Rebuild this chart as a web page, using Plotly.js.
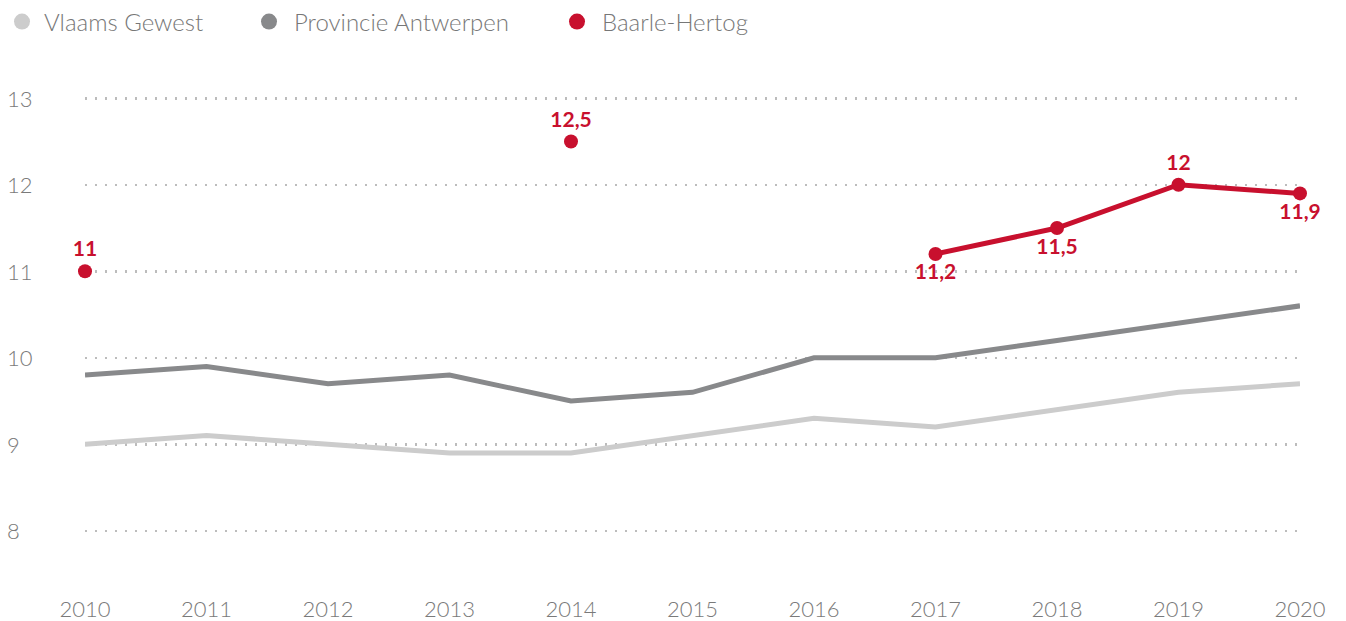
<!DOCTYPE html>
<html><head><meta charset="utf-8">
<script src="https://cdn.plot.ly/plotly-3.0.1.min.js"></script>
<style>html,body{margin:0;padding:0;background:#fff}#chart{width:1346px;height:621px}</style>
</head><body><div id="chart"></div>
<script>
const years = [2010,2011,2012,2013,2014,2015,2016,2017,2018,2019,2020];
const vlaamsGewest = [9.0,9.1,9.0,8.9,8.9,9.1,9.3,9.2,9.4,9.6,9.7];
const provincieAntwerpen = [9.8,9.9,9.7,9.8,9.5,9.6,10.0,10.0,10.2,10.4,10.6];
const baarleHertog = [11,null,null,null,12.5,null,null,11.2,11.5,12,11.9];
const labelPos = ['top center','top center','top center','top center','top center','top center','top center','bottom center','bottom center','top center','bottom center'];
const yTicks = [8,9,10,11,12,13];
const names = ['Vlaams Gewest','Provincie Antwerpen','Baarle-Hertog'];
const colors = ['#cccccc','#88898b','#c8102e'];
const FONT = 'Lato, "Open Sans", sans-serif';

const fmt = v => v == null ? '' : String(v).replace('.', ',');

const traces = [
  {x: years, y: vlaamsGewest, mode: 'lines', line: {color: colors[0], width: 5}, showlegend: false, hoverinfo: 'skip'},
  {x: years, y: provincieAntwerpen, mode: 'lines', line: {color: colors[1], width: 5}, showlegend: false, hoverinfo: 'skip'},
  {x: years, y: baarleHertog, mode: 'lines+markers+text', connectgaps: false,
   line: {color: colors[2], width: 5}, marker: {color: colors[2], size: 14},
   text: baarleHertog.map(fmt), textposition: labelPos,
   textfont: {family: FONT, size: 21, color: colors[2], weight: 700},
   cliponaxis: false, showlegend: false, hoverinfo: 'skip'}
];
const legendX = [0, 244, 552];
const legendItemWidth = [34, 40, 40];
const legendKeys = ['legend', 'legend2', 'legend3'];
names.forEach((n, i) => traces.push({x: [null], y: [null], mode: 'markers', name: n, legend: legendKeys[i],
  marker: {color: colors[i], size: 20}, showlegend: true}));

const layout = {
  width: 1346, height: 621,
  margin: {l: 85, r: 46, t: 55, b: 47, autoexpand: false},
  paper_bgcolor: '#fff', plot_bgcolor: '#fff',
  font: {family: FONT, color: '#7a7a7a', size: 20, weight: 300},
  showlegend: true,
  xaxis: {range: [2010, 2020], tickvals: years, ticktext: years.map(String), showgrid: false, zeroline: false,
    showline: false, ticks: '', ticklabelstandoff: 20, tickfont: {size: 22, color: '#7a7a7a'}},
  yaxis: {range: [7.5, 13.5], tickvals: yTicks, showgrid: true, gridcolor: '#bcbcbc', gridwidth: 2.5,
    griddash: '2px,8px', zeroline: false, showline: false, ticks: '', showticklabels: false},
  annotations: yTicks.map(v => ({xref: 'paper', yref: 'y', x: -0.066, y: v, xanchor: 'left', yanchor: 'middle',
    text: String(v), showarrow: false, font: {family: FONT, size: 22, color: '#7a7a7a', weight: 300}}))
};
legendKeys.forEach((k, i) => {
  layout[k] = {orientation: 'h', xref: 'container', yref: 'container', x: legendX[i] / 1346, xanchor: 'left',
    y: 1 - 22 / 621, yanchor: 'middle', bgcolor: 'rgba(0,0,0,0)', itemwidth: legendItemWidth[i],
    font: {family: FONT, size: 24, color: '#777', weight: 300}};
});
Plotly.newPlot('chart', traces, layout, {displayModeBar: false, staticPlot: true});
</script></body></html>
